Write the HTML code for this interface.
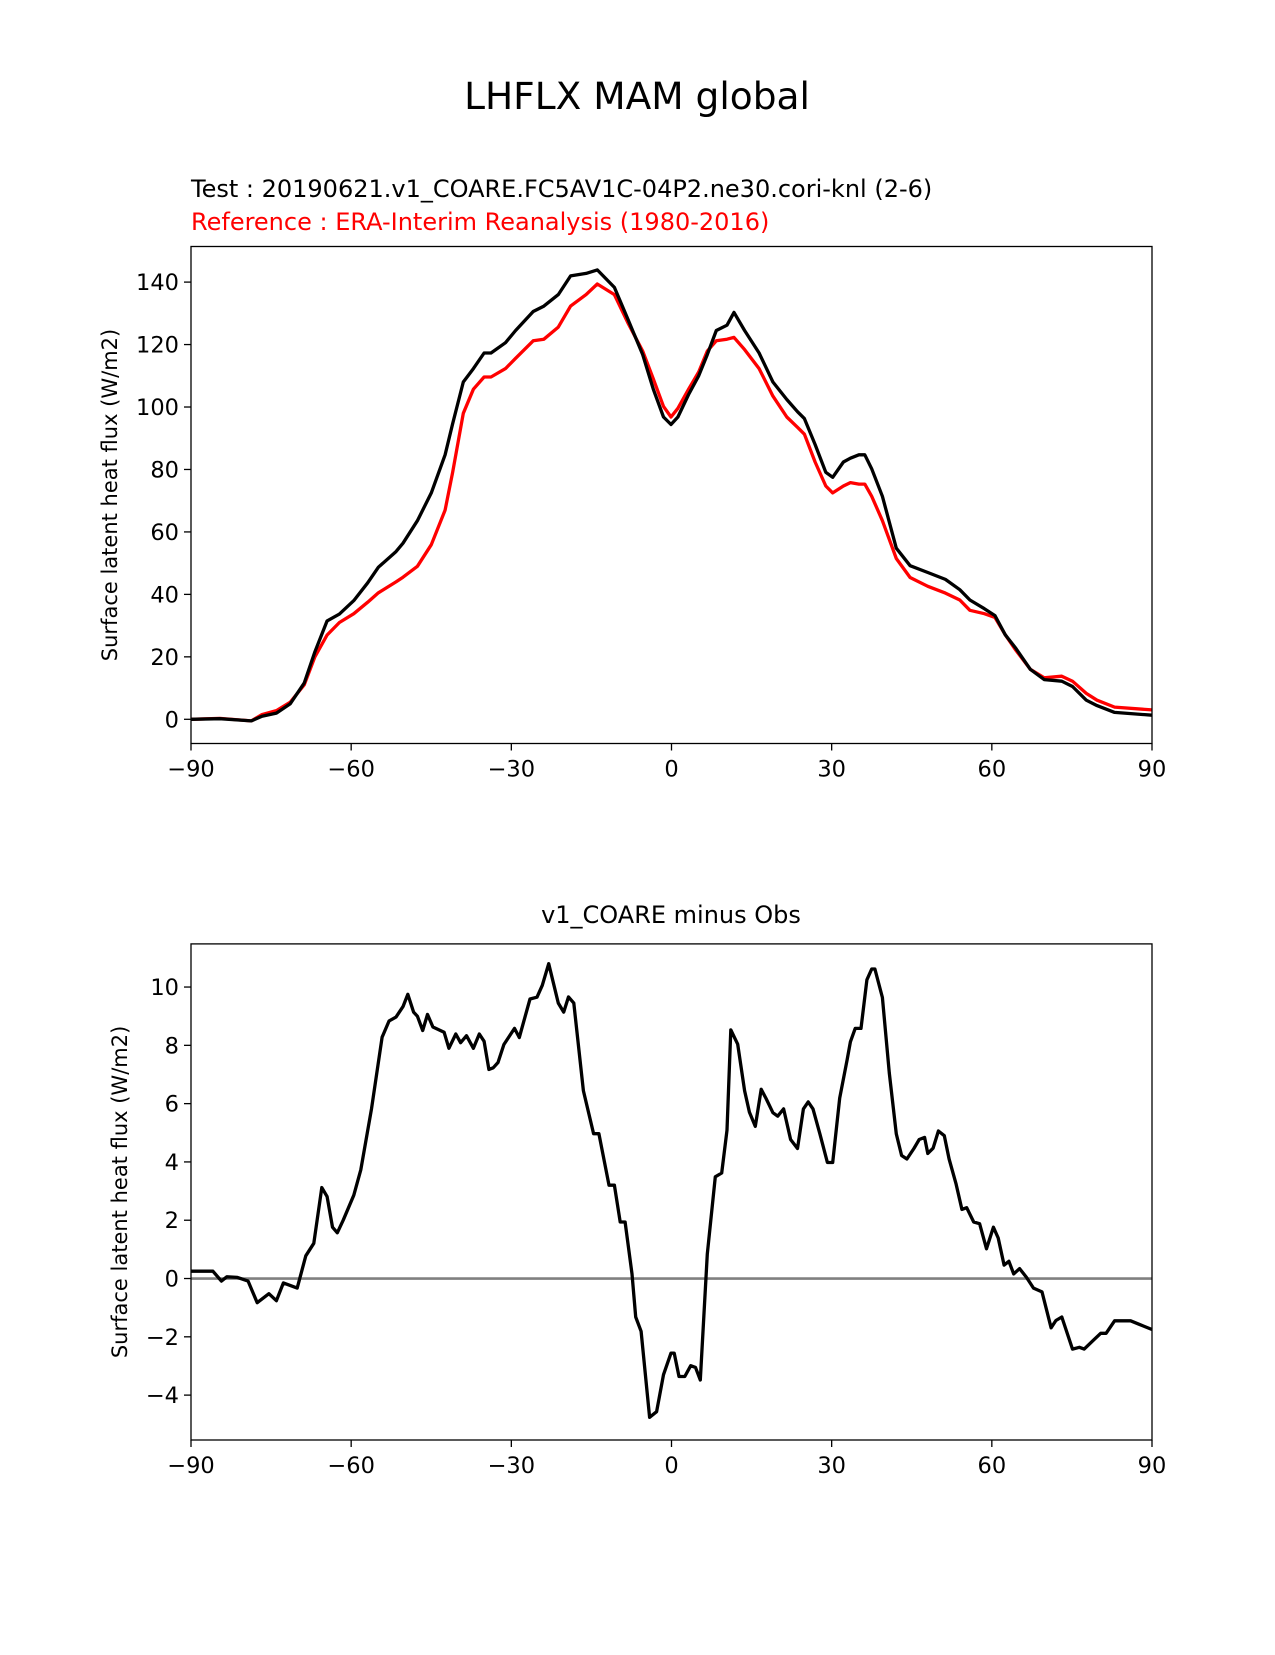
<!DOCTYPE html>
<html><head><meta charset="utf-8"><style>
body{margin:0;background:#fff}
svg text{font-family:"DejaVu Sans","Liberation Sans",sans-serif}
</style></head><body>
<svg id="fig" width="1275" height="1650" xmlns="http://www.w3.org/2000/svg">
<rect width="1275" height="1650" fill="#fff"/>
<text x="637" y="109" font-size="37.5" text-anchor="middle">LHFLX MAM global</text>
<text x="191" y="197" font-size="24">Test : 20190621.v1_COARE.FC5AV1C-04P2.ne30.cori-knl (2-6)</text>
<text x="191" y="230" font-size="24" fill="#ff0000">Reference : ERA-Interim Reanalysis (1980-2016)</text>
<text x="671" y="923" font-size="24" text-anchor="middle">v1_COARE minus Obs</text>
<g id="top"></g>
<g id="bot"></g>
</svg>
<script>
const topLat=[-90,-84.6,-78.7,-76.7,-74,-71.4,-68.8,-66.8,-64.5,-62.2,-59.5,-56.9,-54.9,-51.6,-50.3,-47.6,-45,-42.4,-41,-39,-37.1,-35.1,-33.8,-31.1,-29.2,-25.9,-23.9,-21.2,-18.9,-16,-13.9,-10.7,-8.1,-5.4,-3.4,-1.5,-0.1,1.2,3.2,5.1,6.7,8.4,10.4,11.7,13.7,16.4,19,21.6,23.6,24.9,26.9,28.9,30.2,32.2,33.5,35.1,36.2,37.5,39.5,42.1,44.7,48,51.3,54,55.9,58.6,60.6,62.5,64.5,67.2,69.8,73.1,75.1,77.7,79.7,83,90];
const testVals=[0,0.2,-0.5,1,2,5,11.6,21.6,31.5,33.7,38,43.7,48.7,53.7,56.4,63.6,72.5,84.7,94.6,108,112.3,117.3,117.3,120.6,124.5,130.6,132.3,136,142,142.8,143.9,138.3,127.8,116.8,105.7,96.8,94.4,96.8,104,110,116.8,124.5,126.2,130.3,124.5,117.3,108,102.4,98.5,96.3,88,79.1,77.5,82.4,83.6,84.7,84.7,80.2,71.4,54.8,49.2,47,44.8,41.5,38.2,35.4,33.2,27.1,22.7,16,12.7,12.2,10.5,6.1,4.4,2.2,1.3];
const refVals=[0,0.3,-0.5,1.5,2.8,5.5,11,20,27,31,33.8,37.5,40.5,44,45.5,49,55.9,67,79,98,105.7,109.6,109.6,112.3,115.6,121.2,121.7,125.6,132.3,136,139.4,136,126.7,117.9,109,100.2,96.8,99.6,105.7,111.2,117.9,121.2,121.7,122.3,118.4,112.3,103.5,96.8,93.5,91.3,82.4,74.7,72.5,74.7,75.8,75.3,75.3,71.4,63.6,51.5,45.4,42.6,40.4,38.2,34.9,33.8,32.6,27.1,22.1,16,13.3,13.8,12.2,8.3,6.1,3.9,3];
const diffLat=[-90,-85.9,-84.3,-83.3,-81.3,-79.3,-77.6,-75.4,-74,-72.7,-70.1,-68.5,-67,-65.5,-64.5,-63.5,-62.6,-61.5,-59.5,-58.2,-56.2,-54.2,-52.9,-51.6,-50.3,-49.4,-48.3,-47.6,-46.6,-45.7,-44.7,-42.6,-41.7,-40.4,-39.5,-38.4,-37.1,-36,-35.1,-34.2,-33.4,-32.5,-31.4,-29.4,-28.5,-26.5,-25.2,-24.2,-23,-21.2,-20.2,-19.3,-18.3,-16.5,-14.6,-13.6,-11.7,-10.7,-9.6,-8.7,-7.4,-6.7,-5.7,-4.1,-2.8,-1.5,-0.1,0.5,1.4,2.5,3.6,4.5,5.4,6.7,8.2,9.4,10.4,11.1,12.4,13.7,14.6,15.7,16.8,17.7,19,19.9,21,22.3,23.6,24.7,25.6,26.5,27.8,29.2,30.2,31.5,32.9,33.5,34.4,35.5,36.6,37.5,38.1,39.5,40.8,42.1,43.1,44.1,45.4,46.4,47.4,48,49,50,51.1,52,53.3,54.4,55.3,56.6,57.7,59,60.3,61.2,62.3,63.2,64.1,65.2,66.5,67.8,69.4,71.1,72,73.1,75.1,76.4,77.3,79,80.4,81.4,83,85,86,87.6,90];
const diffVals=[0.25,0.25,-0.09,0.06,0.04,-0.09,-0.83,-0.52,-0.76,-0.15,-0.33,0.78,1.21,3.12,2.81,1.76,1.57,2.0,2.86,3.73,5.82,8.28,8.84,8.97,9.33,9.75,9.14,9.0,8.51,9.06,8.63,8.45,7.9,8.39,8.09,8.33,7.9,8.39,8.14,7.17,7.23,7.41,8.03,8.58,8.27,9.59,9.65,10.06,10.8,9.45,9.14,9.66,9.45,6.44,4.97,4.97,3.2,3.2,1.94,1.94,0.16,-1.32,-1.81,-4.76,-4.57,-3.3,-2.56,-2.56,-3.36,-3.36,-2.99,-3.05,-3.48,0.84,3.49,3.62,5.09,8.53,8.04,6.44,5.71,5.22,6.49,6.18,5.69,5.57,5.82,4.77,4.46,5.82,6.06,5.82,4.96,3.98,3.98,6.19,7.5,8.12,8.58,8.58,10.25,10.62,10.62,9.64,7.05,4.96,4.22,4.1,4.46,4.77,4.84,4.29,4.47,5.06,4.9,4.1,3.24,2.37,2.43,1.94,1.88,1.02,1.76,1.39,0.46,0.59,0.16,0.34,0.04,-0.33,-0.46,-1.69,-1.44,-1.32,-2.42,-2.36,-2.42,-2.12,-1.88,-1.88,-1.45,-1.45,-1.45,-1.57,-1.75];
const xTicks=[-90,-60,-30,0,30,60,90];
const xTickLabels=["\u221290","\u221260","\u221230","0","30","60","90"];
const topYTicks=[0,20,40,60,80,100,120,140];
const botYTicks=[-4,-2,0,2,4,6,8,10];

const NS="http://www.w3.org/2000/svg";
function mk(parent,tag,attrs){const e=document.createElementNS(NS,tag);for(const k in attrs)e.setAttribute(k,attrs[k]);parent.appendChild(e);return e;}
function fmt(v){return v<0?"\u2212"+Math.abs(v):String(v);}
function axes(g,x0,x1,y0,y1,ymin,ymax,yTicks,labelX,name){
  const xs=v=>x0+(v+90)/180*(x1-x0);
  const ys=v=>y1-(v-ymin)/(ymax-ymin)*(y1-y0);
  xTicks.forEach((t,i)=>{
    const l=mk(g,"line",{x1:xs(t),x2:xs(t),y1:y1,y2:y1+7,stroke:"#000","stroke-width":1.3});
    
    
    const tx=mk(g,"text",{x:xs(t),y:y1+33,"font-size":22.5,"text-anchor":"middle"});
    tx.textContent=xTickLabels[i];
    
    
  });
  yTicks.forEach(t=>{
    const l=mk(g,"line",{x1:x0-7,x2:x0,y1:ys(t),y2:ys(t),stroke:"#000","stroke-width":1.3});
    
    
    const tx=mk(g,"text",{x:x0-12,y:ys(t)+8,"font-size":22.5,"text-anchor":"end"});
    tx.textContent=fmt(t);
    
    
  });
  const yl=mk(g,"text",{x:0,y:0,"font-size":21,"text-anchor":"middle",transform:`translate(${labelX},${(y0+y1)/2}) rotate(-90)`});
  yl.textContent="Surface latent heat flux (W/m2)";
  
  
  return {xs,ys};
}
function line(g,lat,vals,sc,color,w,name){
  const d=lat.map((v,i)=>(i?"L":"M")+sc.xs(v).toFixed(1)+","+sc.ys(vals[i]).toFixed(1)).join("");
  const p=mk(g,"path",{d:d,fill:"none",stroke:color,"stroke-width":w,"stroke-linejoin":"round"});
  
  
}
function frame(g,x0,x1,y0,y1){
  const r=mk(g,"rect",{x:x0,y:y0,width:x1-x0,height:y1-y0,fill:"none",stroke:"#000","stroke-width":1.3});
  
  
}
const gT=document.getElementById("top");
const sT=axes(gT,191,1152,246.5,743.5,-7.75,151.4,topYTicks,117,"top");
line(gT,topLat,refVals,sT,"#ff0000",3.3,"reference-series-line");
line(gT,topLat,testVals,sT,"#000",3.3,"test-series-line");
frame(gT,191,1152,246.5,743.5);

const gB=document.getElementById("bot");
const sB=axes(gB,191,1152,943.9,1440,-5.54,11.48,botYTicks,127,"diff");
const z=mk(gB,"line",{x1:191,x2:1152,y1:sB.ys(0),y2:sB.ys(0),stroke:"#808080","stroke-width":2.6});


line(gB,diffLat,diffVals,sB,"#000",3.3,"difference-series-line");
frame(gB,191,1152,943.9,1440);
</script>
</body></html>
